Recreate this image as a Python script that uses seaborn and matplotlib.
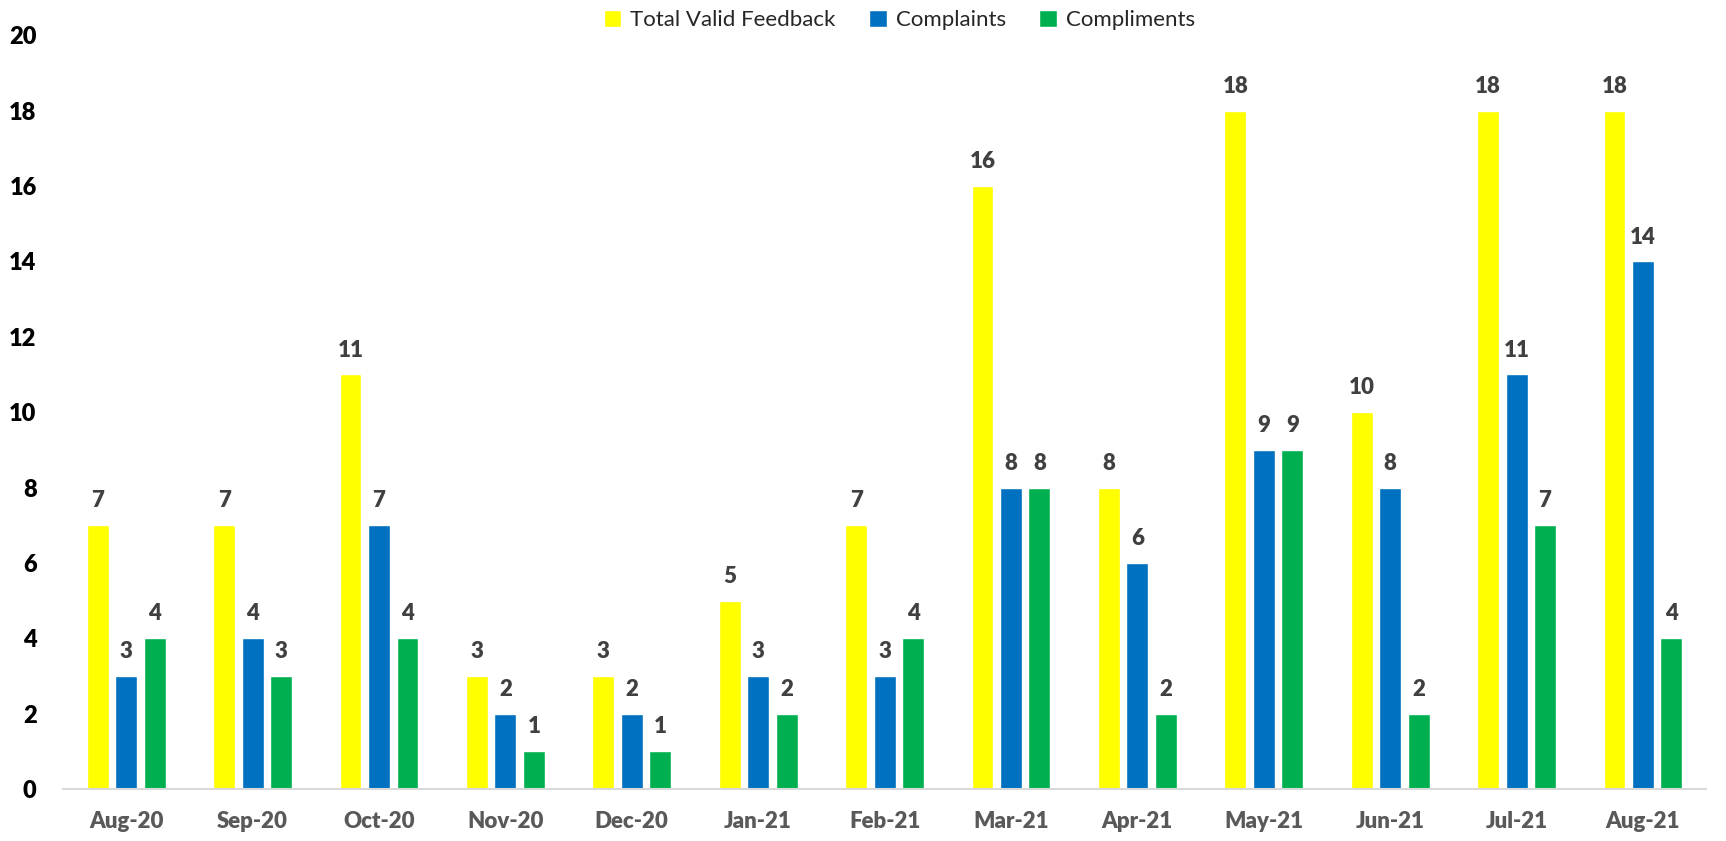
import pandas as pd
import numpy as np
import matplotlib
matplotlib.use("Agg")
import matplotlib.pyplot as plt
import seaborn as sns

months = ["Aug-20", "Sep-20", "Oct-20", "Nov-20", "Dec-20", "Jan-21", "Feb-21",
          "Mar-21", "Apr-21", "May-21", "Jun-21", "Jul-21", "Aug-21"]
total_valid = [7, 7, 11, 3, 3, 5, 7, 16, 8, 18, 10, 18, 18]
complaints = [3, 4, 7, 2, 2, 3, 3, 8, 6, 9, 8, 11, 14]
compliments = [4, 3, 4, 1, 1, 2, 4, 8, 2, 9, 2, 7, 4]

series_names = ["Total Valid Feedback", "Complaints", "Compliments"]
colors = ["#FFFF00", "#0070C0", "#00B050"]

sns.set_style("white")
plt.rcParams['font.family'] = ['Lato', 'DejaVu Sans']

df = pd.DataFrame({"Month": months, series_names[0]: total_valid,
                   series_names[1]: complaints, series_names[2]: compliments})
long_df = df.melt(id_vars="Month", var_name="Series", value_name="Count")

fig = plt.figure(figsize=(17.26, 8.41), dpi=100)
ax = fig.add_axes([0.0365, 0.0618, 0.952, 0.8962])

sns.barplot(data=long_df, x="Month", y="Count", hue="Series", order=months,
            hue_order=series_names, palette=colors, width=0.676, gap=0.23,
            saturation=1, ax=ax, legend=True)

for cont in ax.containers:
    ax.bar_label(cont, padding=10, fontsize=16, fontweight="heavy", color="#404040")

ax.set_ylim(0, 20)
ax.set_xlim(-0.5, len(months) - 0.5)
ax.set_yticks(range(0, 21, 2))
ax.set_xlabel("")
ax.set_ylabel("")

for s in ["top", "right", "left"]:
    ax.spines[s].set_visible(False)
ax.spines["bottom"].set_color("#D9D9D9")
ax.spines["bottom"].set_linewidth(1.5)

ax.tick_params(axis="y", length=0, pad=19, labelsize=17, labelcolor="black")
for lbl in ax.get_yticklabels():
    lbl.set_fontweight("heavy")
ax.tick_params(axis="x", which="major", length=0, pad=16, labelsize=16, labelcolor="#595959")
for lbl in ax.get_xticklabels():
    lbl.set_fontweight("heavy")
ax.set_xticks(np.arange(-0.5, len(months), 1), minor=True)
ax.tick_params(axis="x", which="minor", length=7, width=1.5, color="#D9D9D9", direction="out")

ax.legend(loc="upper center", bbox_to_anchor=(0.509, 1.06), ncol=3, frameon=False,
          fontsize=16, handlelength=0.8, handleheight=0.8, columnspacing=1.5,
          handletextpad=0.4)

fig.savefig("out.png", dpi=100)
